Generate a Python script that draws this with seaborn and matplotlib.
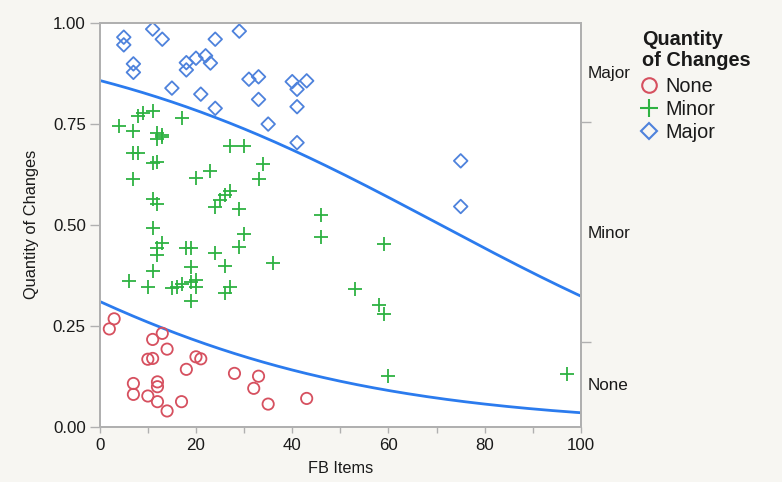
import numpy as np
import pandas as pd
import matplotlib
matplotlib.use("Agg")
import matplotlib.pyplot as plt
import seaborn as sns
from matplotlib.lines import Line2D

# ---------------- data ----------------
categories = ["None", "Minor", "Major"]

none_x = [3, 2, 13, 11, 14, 10, 11, 20, 21, 18, 28, 33, 32, 7, 12, 12, 7, 10, 12, 14, 17, 35, 43]
none_y = [0.267, 0.242, 0.231, 0.216, 0.192, 0.167, 0.169, 0.173, 0.168, 0.142, 0.132, 0.125,
          0.095, 0.107, 0.111, 0.099, 0.080, 0.076, 0.062, 0.039, 0.062, 0.056, 0.070]

minor_x = [11, 9, 8, 17, 4, 7, 12, 13, 12, 13, 7, 8, 11, 12, 27, 30, 34, 33, 23, 20,
           7, 27, 26, 25, 24, 29, 11, 12, 46, 46, 30, 29, 11, 13, 12, 12, 18, 19, 24, 11,
           19, 26, 36, 6, 10, 15, 16, 17, 19, 20, 20, 27, 26, 19, 59, 53, 58, 59, 60, 97]
minor_y = [0.782, 0.777, 0.769, 0.763, 0.744, 0.733, 0.726, 0.722, 0.711, 0.716, 0.678, 0.678,
           0.653, 0.656, 0.695, 0.694, 0.650, 0.613, 0.633, 0.615, 0.612, 0.584, 0.574, 0.561,
           0.543, 0.539, 0.564, 0.552, 0.524, 0.470, 0.477, 0.446, 0.493, 0.454, 0.442, 0.424,
           0.442, 0.443, 0.429, 0.385, 0.395, 0.397, 0.404, 0.361, 0.347, 0.343, 0.347, 0.352,
           0.358, 0.363, 0.345, 0.346, 0.330, 0.311, 0.451, 0.341, 0.300, 0.279, 0.125, 0.130]

major_x = [5, 5, 11, 13, 24, 29, 7, 7, 18, 18, 20, 22, 23, 15, 21, 24, 31, 33, 40, 43,
           41, 33, 41, 35, 41, 75, 75]
major_y = [0.964, 0.945, 0.984, 0.959, 0.959, 0.979, 0.898, 0.877, 0.901, 0.883, 0.912, 0.918,
           0.900, 0.838, 0.823, 0.788, 0.860, 0.866, 0.854, 0.856, 0.835, 0.810, 0.792, 0.749,
           0.703, 0.658, 0.545]

# fitted ordinal logistic curve: P(Y <= level) = 1/(1+exp(-(a + b*x)))
curve_intercepts = [-0.80, 1.79]
curve_slope = -0.0253

x_ticks = [0, 20, 40, 60, 80, 100]
y_ticks = [0.0, 0.25, 0.50, 0.75, 1.00]
y_tick_labels = ["0.00", "0.25", "0.50", "0.75", "1.00"]
legend_title = "Quantity\nof Changes"

# ---------------- style ----------------
sns.set_theme(style="white")
plt.rcParams["font.family"] = ["Liberation Sans", "DejaVu Sans"]

red = "#d6505f"
green = "#2eb242"
blue = "#4e82dc"
curve_col = "#2b7bee"
grey = "#b0b0b0"
txt = "#1a1a1a"

df = pd.DataFrame({
    "FB Items": none_x + minor_x + major_x,
    "Quantity of Changes": none_y + minor_y + major_y,
    "level": ["None"] * len(none_x) + ["Minor"] * len(minor_x) + ["Major"] * len(major_x),
})

fig = plt.figure(figsize=(7.82, 4.82), dpi=100, facecolor="#f7f6f2")
ax = fig.add_axes([0.1275, 0.1147, 0.6155, 0.8383])
ax.set_facecolor("white")

# curves
xs = np.linspace(0, 100, 201)
for a in curve_intercepts:
    p = 1.0 / (1.0 + np.exp(-(a + curve_slope * xs)))
    sns.lineplot(x=xs, y=p, ax=ax, color=curve_col, linewidth=2.0, zorder=2)

# points
styles = {"None": ("o", red, 66), "Minor": ("+", green, 95), "Major": ("D", blue, 48)}
for cat in categories:
    m, col, s = styles[cat]
    sub = df[df["level"] == cat]
    kw = dict(facecolor="none") if m != "+" else {}
    sns.scatterplot(data=sub, x="FB Items", y="Quantity of Changes", ax=ax, marker=m,
                    color=col, edgecolor=col, s=s, linewidth=1.3, legend=False,
                    zorder=3, **kw)

ax.set_xlim(0, 100)
ax.set_ylim(0, 1)
ax.set_xticks(x_ticks)
ax.set_xticks([10, 30, 50, 70, 90], minor=True)
ax.set_yticks(y_ticks)
ax.set_yticklabels(y_tick_labels)
ax.tick_params(axis="both", which="both", direction="out", color=grey, labelcolor=txt,
               labelsize=12.2, width=1.0)
ax.tick_params(axis="x", which="both", length=4, pad=4)
ax.tick_params(axis="y", which="major", length=7, pad=3, left=True)
ax.tick_params(axis="x", which="both", bottom=True)
ax.set_xlabel("FB Items", fontsize=11.7, color=txt, labelpad=6)
ax.set_ylabel("Quantity of Changes", fontsize=11.8, color=txt, labelpad=10)
for sp in ax.spines.values():
    sp.set_visible(True)
    sp.set_color(grey)
    sp.set_linewidth(1.3)

# right axis: cumulative marginal proportions
counts = [len(none_x), len(minor_x), len(major_x)]
total = sum(counts)
cum = np.cumsum(counts) / total
bounds = np.concatenate([[0.0], cum])
mids = (bounds[:-1] + bounds[1:]) / 2
ax2 = ax.twinx()
ax2.set_ylim(0, 1)
ax2.grid(False)
ax2.set_yticks(mids)
ax2.set_yticklabels(categories)
ax2.set_yticks(cum[:-1], minor=True)
ax2.tick_params(axis="y", which="major", length=0, pad=5, labelsize=12.3, labelcolor=txt, right=True)
ax2.tick_params(axis="y", which="minor", length=7, color=grey, width=1.0, direction="out", right=True)
for sp in ax2.spines.values():
    sp.set_visible(True)
    sp.set_color(grey)
    sp.set_linewidth(1.3)

# legend
fig.text(642 / 782, 1 - 50 / 482, legend_title, ha="left", va="center", fontsize=14.3,
         fontweight="bold", color=txt, linespacing=1.15)
handles = [
    Line2D([], [], marker="o", ls="none", mfc="none", mec=red, ms=10.5, mew=1.5),
    Line2D([], [], marker="+", ls="none", mec=green, ms=13, mew=1.5),
    Line2D([], [], marker="D", ls="none", mfc="none", mec=blue, ms=8.5, mew=1.5),
]
leg = fig.legend(handles, categories, loc="upper left",
                 bbox_to_anchor=(641 / 782, 1 - 77 / 482), frameon=False, fontsize=14.3,
                 handlelength=0.8, handletextpad=0.45, labelspacing=0.2,
                 borderpad=0, borderaxespad=0)
for t in leg.get_texts():
    t.set_color(txt)

fig.savefig("out.png", dpi=100, facecolor=fig.get_facecolor())
